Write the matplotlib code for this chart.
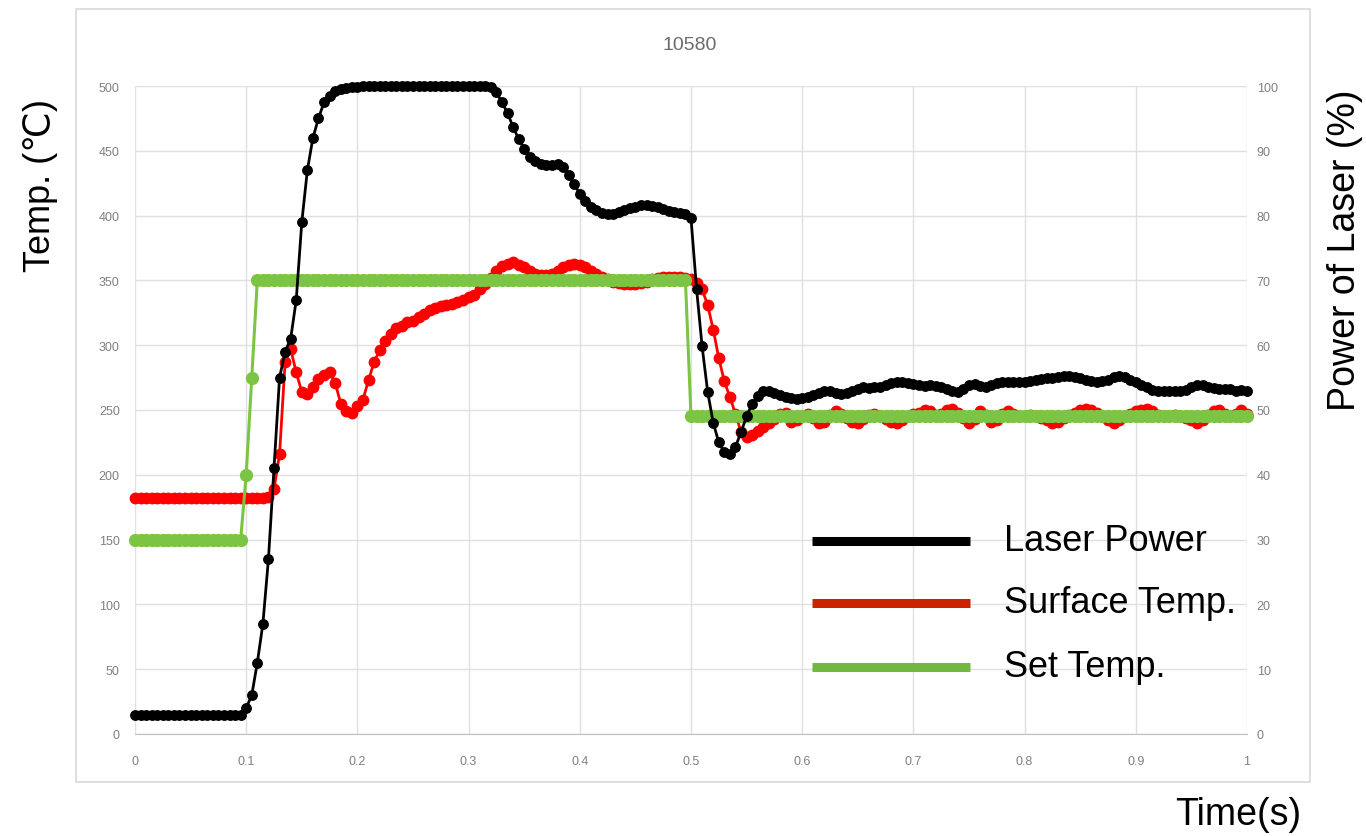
import numpy as np
import matplotlib
matplotlib.use("Agg")
import matplotlib.pyplot as plt
from matplotlib.lines import Line2D
from matplotlib.patches import Rectangle

plt.rcParams['font.family'] = ['Liberation Sans', 'DejaVu Sans']

# Sampling interval of the logger (s)
dt = 0.005

# Laser power (%), one value per sample, 0.000 s .. 1.000 s
laser_power = [
    3, 3, 3, 3, 3, 3, 3, 3, 3, 3,
    3, 3, 3, 3, 3, 3, 3, 3, 3, 3,
    4, 6, 11, 17, 27, 41, 55, 59, 61, 67,
    79, 87, 92, 95, 97.5, 98.5, 99.2, 99.5, 99.7, 99.8,
    99.9, 100, 100, 100, 100, 100, 100, 100, 100, 100,
    100, 100, 100, 100, 100, 100, 100, 100, 100, 100,
    100, 100, 100, 100, 99.8, 99, 97.5, 95.8, 93.7, 91.8,
    90.3, 89, 88.4, 88, 87.8, 87.8, 88, 87.5, 86.2, 84.8,
    83.4, 82.2, 81.3, 80.8, 80.4, 80.2, 80.3, 80.6, 80.9, 81.2,
    81.4, 81.6, 81.6, 81.5, 81.3, 81.0, 80.7, 80.5, 80.4, 80.2,
    79.6, 68.7, 59.8, 52.8, 48, 45, 43.5, 43.2, 44.3, 46.6,
    49, 51, 52.2, 52.9, 53, 52.7, 52.3, 52.0, 51.8, 51.7,
    51.8, 52.0, 52.3, 52.6, 52.9, 52.9, 52.6, 52.5, 52.7, 53.0,
    53.3, 53.5, 53.4, 53.5, 53.6, 53.8, 54.1, 54.3, 54.3, 54.2,
    54.0, 53.8, 53.7, 53.8, 53.7, 53.5, 53.2, 52.9, 52.8, 53.3,
    53.9, 54.0, 53.7, 53.5, 53.9, 54.2, 54.3, 54.3, 54.3, 54.3,
    54.3, 54.4, 54.6, 54.8, 54.9, 55.0, 55.1, 55.2, 55.2, 55.1,
    54.9, 54.6, 54.4, 54.3, 54.4, 54.7, 55.1, 55.3, 55.1, 54.7,
    54.3, 53.9, 53.5, 53.1, 52.9, 52.9, 52.9, 53.0, 52.9, 53.1,
    53.5, 53.9, 53.9, 53.6, 53.4, 53.3, 53.3, 53.2, 53.0, 53.1,
    53.0,
]

# Measured surface temperature (deg C)
surface_temp = [
    182, 182, 182, 182, 182, 182, 182, 182, 182, 182,
    182, 182, 182, 182, 182, 182, 182, 182, 182, 182,
    182, 182, 182, 182, 183, 189, 216, 287, 297, 279,
    264, 262, 268, 274, 277, 279, 271, 255, 249, 248,
    253, 258, 273, 287, 296, 303, 309, 313, 315, 318,
    319, 322, 324, 327, 329, 330, 331, 332, 333, 335,
    337, 339, 343, 347, 352, 357, 361, 363, 364, 362,
    360, 357, 355, 354, 354, 355, 357, 360, 362, 363,
    362, 360, 357, 355, 353, 351, 349, 348, 347, 347,
    347, 348, 349, 351, 352, 353, 353, 353, 353, 352,
    351, 348, 343, 331, 312, 290, 272, 260, 247, 233,
    229, 231, 234, 237, 240, 243, 247, 248, 241, 242,
    245, 247, 244, 240, 241, 246, 249, 247, 244, 241,
    240, 243, 246, 247, 245, 243, 241, 240, 242, 245,
    247, 248, 250, 249, 246, 247, 250, 251, 248, 244,
    240, 243, 249, 246, 241, 242, 247, 249, 247, 245,
    245, 246, 245, 244, 242, 240, 241, 244, 246, 248,
    250, 251, 250, 248, 245, 242, 240, 242, 245, 247,
    249, 250, 251, 249, 246, 245, 245, 246, 245, 244,
    242, 240, 242, 246, 249, 250, 247, 245, 247, 250,
    247,
]

# Temperature set point (deg C)
set_temp = [
    150, 150, 150, 150, 150, 150, 150, 150, 150, 150,
    150, 150, 150, 150, 150, 150, 150, 150, 150, 150,
    200, 275, 350, 350, 350, 350, 350, 350, 350, 350,
    350, 350, 350, 350, 350, 350, 350, 350, 350, 350,
    350, 350, 350, 350, 350, 350, 350, 350, 350, 350,
    350, 350, 350, 350, 350, 350, 350, 350, 350, 350,
    350, 350, 350, 350, 350, 350, 350, 350, 350, 350,
    350, 350, 350, 350, 350, 350, 350, 350, 350, 350,
    350, 350, 350, 350, 350, 350, 350, 350, 350, 350,
    350, 350, 350, 350, 350, 350, 350, 350, 350, 350,
    245, 245, 245, 245, 245, 245, 245, 245, 245, 245,
    245, 245, 245, 245, 245, 245, 245, 245, 245, 245,
    245, 245, 245, 245, 245, 245, 245, 245, 245, 245,
    245, 245, 245, 245, 245, 245, 245, 245, 245, 245,
    245, 245, 245, 245, 245, 245, 245, 245, 245, 245,
    245, 245, 245, 245, 245, 245, 245, 245, 245, 245,
    245, 245, 245, 245, 245, 245, 245, 245, 245, 245,
    245, 245, 245, 245, 245, 245, 245, 245, 245, 245,
    245, 245, 245, 245, 245, 245, 245, 245, 245, 245,
    245, 245, 245, 245, 245, 245, 245, 245, 245, 245,
    245,
]

time_s = np.arange(len(laser_power)) * dt

x_ticks = [0, 0.1, 0.2, 0.3, 0.4, 0.5, 0.6, 0.7, 0.8, 0.9, 1.0]
x_tick_labels = ['0', '0.1', '0.2', '0.3', '0.4', '0.5', '0.6', '0.7', '0.8', '0.9', '1']
temp_ticks = [0, 50, 100, 150, 200, 250, 300, 350, 400, 450, 500]
power_ticks = [0, 10, 20, 30, 40, 50, 60, 70, 80, 90, 100]

legend_labels = ['Laser Power', 'Surface Temp.', 'Set Temp.']

W, H = 1366, 837
fig = plt.figure(figsize=(W / 100, H / 100), dpi=100)

def fx(px):
    return px / W

def fy(py):
    return 1 - py / H

# outer chart frame
fig.patches.append(Rectangle((fx(76), fy(783)), fx(1310) - fx(76), fy(10) - fy(783),
                             transform=fig.transFigure, fill=False,
                             edgecolor='#d9d9d9', lw=1.2))

ax = fig.add_axes([fx(135), fy(735), fx(1247) - fx(135), fy(87) - fy(735)])
ax2 = ax.twinx()

red = '#ff0000'
green = '#7cc443'
ax.plot(time_s, surface_temp, color=red, lw=2.0, marker='o', ms=7.5,
        mec=red, zorder=2, clip_on=False)
ax.plot(time_s, set_temp, color=green, lw=2.2, marker='o', ms=8.5,
        mec=green, zorder=3, clip_on=False)
ax2.plot(time_s, laser_power, color='black', lw=2.0, marker='o', ms=6.8,
         zorder=4, clip_on=False)

ax.set_xlim(0, 1)
ax.set_ylim(0, 500)
ax2.set_ylim(0, 100)

ax.set_xticks(x_ticks)
ax.set_xticklabels(x_tick_labels)
ax.set_yticks(temp_ticks)
ax.set_yticklabels([str(v) for v in temp_ticks])
ax2.set_yticks(power_ticks)
ax2.set_yticklabels([str(v) for v in power_ticks])

tick_color = '#808080'
ax.tick_params(axis='x', length=0, labelsize=9, labelcolor=tick_color, pad=15)
ax.tick_params(axis='y', length=0, labelsize=9, labelcolor=tick_color, pad=11)
ax2.tick_params(axis='y', length=0, labelsize=9, labelcolor=tick_color, pad=7)

ax.grid(True, color='#e0e0e0', lw=1)
ax.set_axisbelow(True)
for name, sp in ax.spines.items():
    sp.set_visible(name == 'bottom')
ax.spines['bottom'].set_color('#bfbfbf')
for sp in ax2.spines.values():
    sp.set_visible(False)

fig.text(fx(690), fy(45), '10580', fontsize=14, color='#6b6b6b',
         ha='center', va='center')
fig.text(fx(40), fy(185), 'Temp. (℃)', fontsize=26, rotation=90,
         ha='center', va='center')
fig.text(fx(1345), fy(250), 'Power of Laser (%)', fontsize=27, rotation=90,
         ha='center', va='center')
fig.text(fx(1238), fy(815), 'Time(s)', fontsize=27, ha='center', va='center')

# legend keys drawn as plain strokes
legend_colors = ['black', '#cc2200', '#70b840']
legend_y = [542, 604, 668]
for lab, col, py in zip(legend_labels, legend_colors, legend_y):
    fig.add_artist(Line2D([fx(812), fx(970)], [fy(py), fy(py)], color=col,
                          lw=6.5, solid_capstyle='butt', transform=fig.transFigure))
    fig.text(fx(1004), fy(py), lab, fontsize=26, ha='left', va='center')

fig.savefig('out.png', dpi=100)
